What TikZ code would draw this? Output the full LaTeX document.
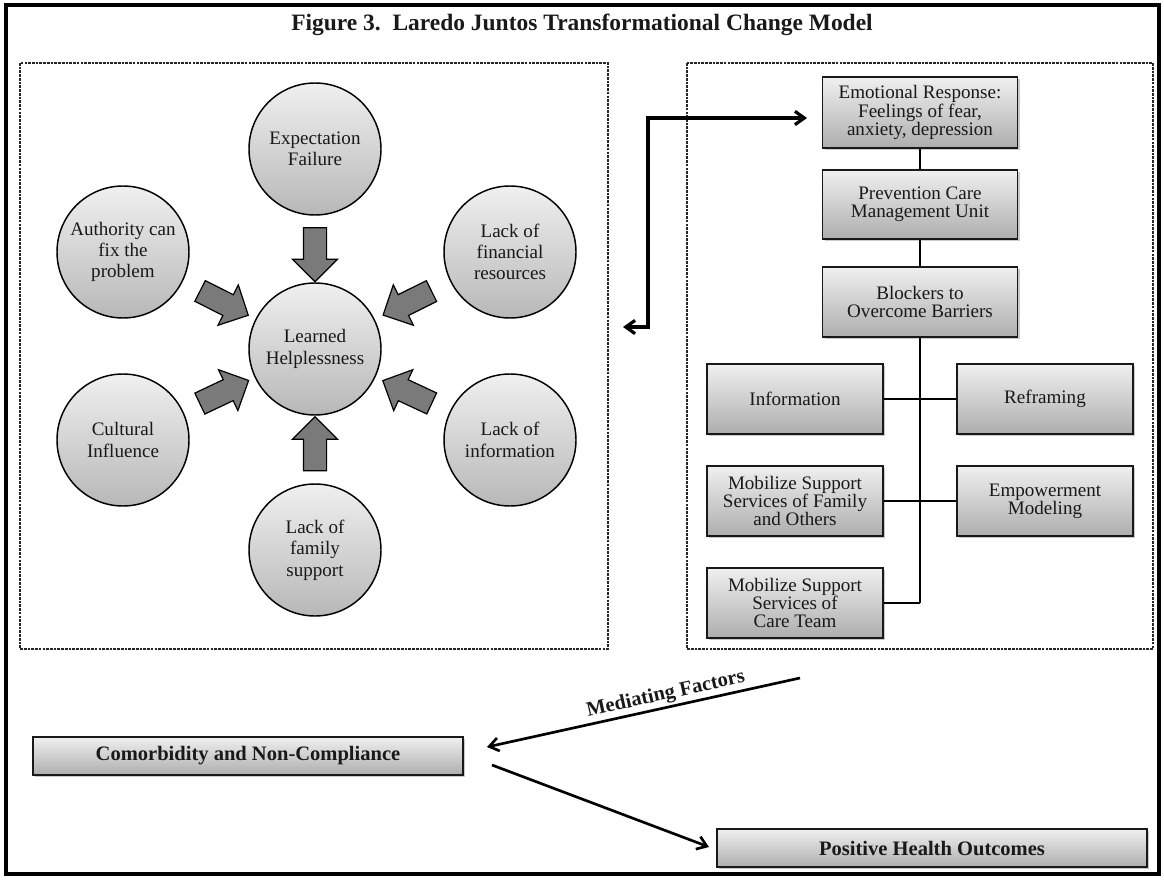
\documentclass[tikz,border=0pt]{standalone}
\usepackage{fontspec}
\setmainfont{Liberation Serif}
\usetikzlibrary{shapes.arrows,arrows.meta,shadows}

\definecolor{inkgray}{RGB}{25,25,25}
\definecolor{arrowfill}{RGB}{122,122,122}

\begin{document}
\begin{tikzpicture}[x=0.75pt,y=-0.75pt,
  frame/.style={draw=black, line width=2.3pt},
  panel/.style={draw=black!85, line width=0.8pt, dash pattern=on 2pt off 0.8pt},
  bubble/.style={circle, draw=black, line width=1.1pt, minimum size=99pt, inner sep=0pt,
    top color=black!6, bottom color=black!28, text=inkgray, align=center,
    font=\fontsize{14.3}{16}\selectfont},
  stepbox/.style={rectangle, draw=black!90, line width=1.1pt, inner sep=0pt,
    top color=black!6, bottom color=black!32, text=inkgray, align=center,
    font=\fontsize{14.3}{13.6}\selectfont,
    drop shadow={shadow xshift=1.6pt, shadow yshift=-1.6pt, fill=black!60, opacity=0.35}},
  smallbox/.style={stepbox, minimum width=132pt, minimum height=52.5pt},
  outcomebox/.style={stepbox, minimum width=322.5pt, minimum height=28.5pt,
    font=\fontsize{15.4}{17}\selectfont\bfseries},
  blockarrow/.style={single arrow, draw=black, fill=arrowfill, line width=0.9pt,
    minimum height=40.5pt, inner xsep=0pt, inner ysep=8.25pt,
    single arrow head extend=8.25pt, single arrow head indent=0pt,
    sloped, allow upside down},
  conn/.style={draw=black, line width=1.1pt},
  linkarrow/.style={draw=black, line width=2.4pt, {Straight Barb[length=7pt,width=10pt]}-{Straight Barb[length=7pt,width=10pt]}},
  flowarrow/.style={draw=black, line width=2pt, -{Straight Barb[length=7pt,width=10pt]}}
]
\useasboundingbox (0,0) rectangle (1164,881);

% outer frame and title
\draw[frame] (6,5) rectangle (1159,874);
\node[font=\fontsize{17.6}{20}\selectfont\bfseries, text=inkgray] (title) at (582,25)
  {Figure 3.\ \ Laredo Juntos Transformational Change Model};

% the two dashed panels
\draw[panel] (20,63) rectangle (608,649);
\draw[panel] (687,63) rectangle (1153,649);

% left panel: causes of learned helplessness
\node[bubble] (lh)   at (315,349) {Learned\\Helplessness};
\node[bubble] (exp)  at (315,149) {Expectation\\Failure};
\node[bubble] (auth) at (123,252) {Authority can\\fix the\\problem};
\node[bubble] (fin)  at (510,252) {Lack of\\financial\\resources};
\node[bubble] (cult) at (123,440) {Cultural\\Influence};
\node[bubble] (info) at (510,440) {Lack of\\information};
\node[bubble] (fam)  at (315,550) {Lack of\\family\\support};

\foreach \src in {exp,auth,fin,cult,info,fam}
  \path (\src) -- (lh) node[blockarrow, midway] {};

% right panel: care path
\node[stepbox, minimum width=146.25pt, minimum height=53.25pt] (emo) at (920,112.5)
  {Emotional Response:\\Feelings of fear,\\anxiety, depression};
\node[stepbox, minimum width=146.25pt, minimum height=51.75pt] (prev) at (920,204.5)
  {Prevention Care\\Management Unit};
\node[stepbox, minimum width=146.25pt, minimum height=52.5pt] (block) at (920,302)
  {Blockers to\\Overcome Barriers};
\node[smallbox] (infobox) at (795,399) {Information};
\node[smallbox] (refr)    at (1045,399) {Reframing};
\node[smallbox] (mobfam)  at (795,501) {Mobilize Support\\Services of Family\\and Others};
\node[smallbox] (empow)   at (1045,501) {Empowerment\\Modeling};
\node[smallbox] (care)    at (795,603) {Mobilize Support\\Services of\\Care Team};
\coordinate (trunkend) at (920,603);

\draw[conn] (emo) -- (prev);
\draw[conn] (prev) -- (block);
\draw[conn] (block.south) -- (trunkend);
\draw[conn] (infobox) -- (refr);
\draw[conn] (mobfam) -- (empow);
\draw[conn] (care.east) -- (trunkend);

% link between the two panels
\coordinate (linkleft)  at (623,327);
\coordinate (linkright) at (807,118);
\draw[linkarrow] (linkleft) -- (648,327) |- (linkright);

% outcomes
\node[outcomebox] (comorb) at (248,756) {Comorbidity and Non-Compliance};
\node[outcomebox] (posout) at (932,848) {Positive Health Outcomes};
\coordinate (medstart) at (800,678);
\coordinate (medtip)   at (487,747);
\coordinate (outstart) at (492,765);
\coordinate (outtip)   at (709,847);
\draw[flowarrow] (medstart) -- (medtip)
  node[pos=0.42, sloped, above, inner sep=1.5pt, text=inkgray,
       font=\fontsize{15.4}{17}\selectfont\bfseries] (medlabel) {Mediating Factors};
\draw[flowarrow] (outstart) -- (outtip);
\end{tikzpicture}
\end{document}
